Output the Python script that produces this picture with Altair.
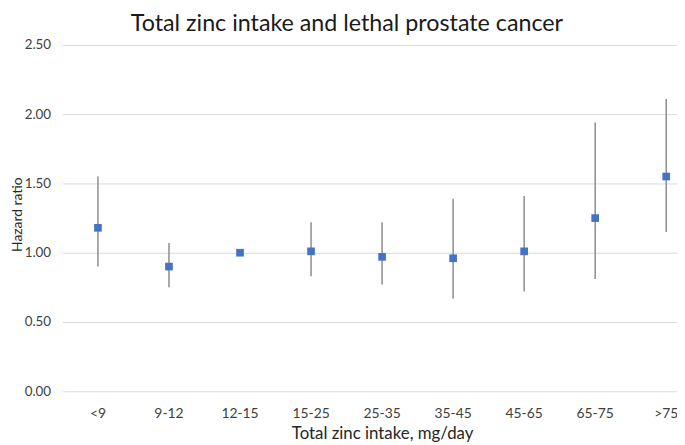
import altair as alt
import pandas as pd

categories = ["<9", "9-12", "12-15", "15-25", "25-35", "35-45", "45-65", "65-75", ">75"]
hazard_ratio = [1.18, 0.90, 1.00, 1.01, 0.97, 0.96, 1.01, 1.25, 1.55]
ci_low = [0.90, 0.75, 1.00, 0.83, 0.77, 0.67, 0.72, 0.81, 1.15]
ci_high = [1.55, 1.07, 1.00, 1.22, 1.22, 1.39, 1.41, 1.94, 2.11]
y_ticks = [0.0, 0.5, 1.0, 1.5, 2.0, 2.5]

df = pd.DataFrame({"cat": categories, "hr": hazard_ratio, "lo": ci_low, "hi": ci_high})

FONT = "Lato"

x = alt.X(
    "cat:N",
    sort=categories,
    scale=alt.Scale(range=[0, 646], paddingInner=0, paddingOuter=0),
    axis=alt.Axis(
        title="Total zinc intake, mg/day",
        labelAngle=0,
        labelFont=FONT,
        labelFontSize=14,
        labelColor="#404040",
        labelPadding=15,
        ticks=False,
        domain=False,
        grid=False,
        titleFont=FONT,
        titleFontSize=17,
        titleFontWeight="normal",
        titleColor="#262626",
        titlePadding=6,
    ),
)

y_axis = alt.Axis(
    values=y_ticks,
    format=".2f",
    title="Hazard ratio",
    labelFont=FONT,
    labelFontSize=13.5,
    labelColor="#404040",
    labelPadding=12,
    ticks=False,
    domain=False,
    grid=True,
    gridColor="#d9d9d9",
    gridWidth=1,
    titleFont=FONT,
    titleFontSize=14,
    titleFontWeight="normal",
    titleColor="#262626",
    titleX=-38,
    titleY=171,
)

rules = alt.Chart(df).mark_rule(color="#8c8c8c", strokeWidth=1.5).encode(
    x=x,
    y=alt.Y("lo:Q", scale=alt.Scale(domain=[0, 2.5], nice=False, zero=True), axis=y_axis),
    y2="hi:Q",
)

points = alt.Chart(df).mark_square(size=60, color="#4472C4", opacity=1).encode(
    x=x,
    y=alt.Y("hr:Q"),
)

chart = (
    alt.layer(rules, points)
    .properties(
        width=621,
        height=350,
        title=alt.TitleParams(
            "Total zinc intake and lethal prostate cancer",
            font=FONT,
            fontSize=23.5,
            fontWeight="normal",
            color="#1a1a1a",
            anchor="middle",
            dx=-23,
            offset=3,
        ),
        autosize=alt.AutoSizeParams(type="none"),
        padding={"left": 55, "top": 35, "right": 0, "bottom": 52},
    )
    .configure_view(stroke=None)
)

chart.save("out.html", embed_options={"renderer": "svg", "actions": False})
